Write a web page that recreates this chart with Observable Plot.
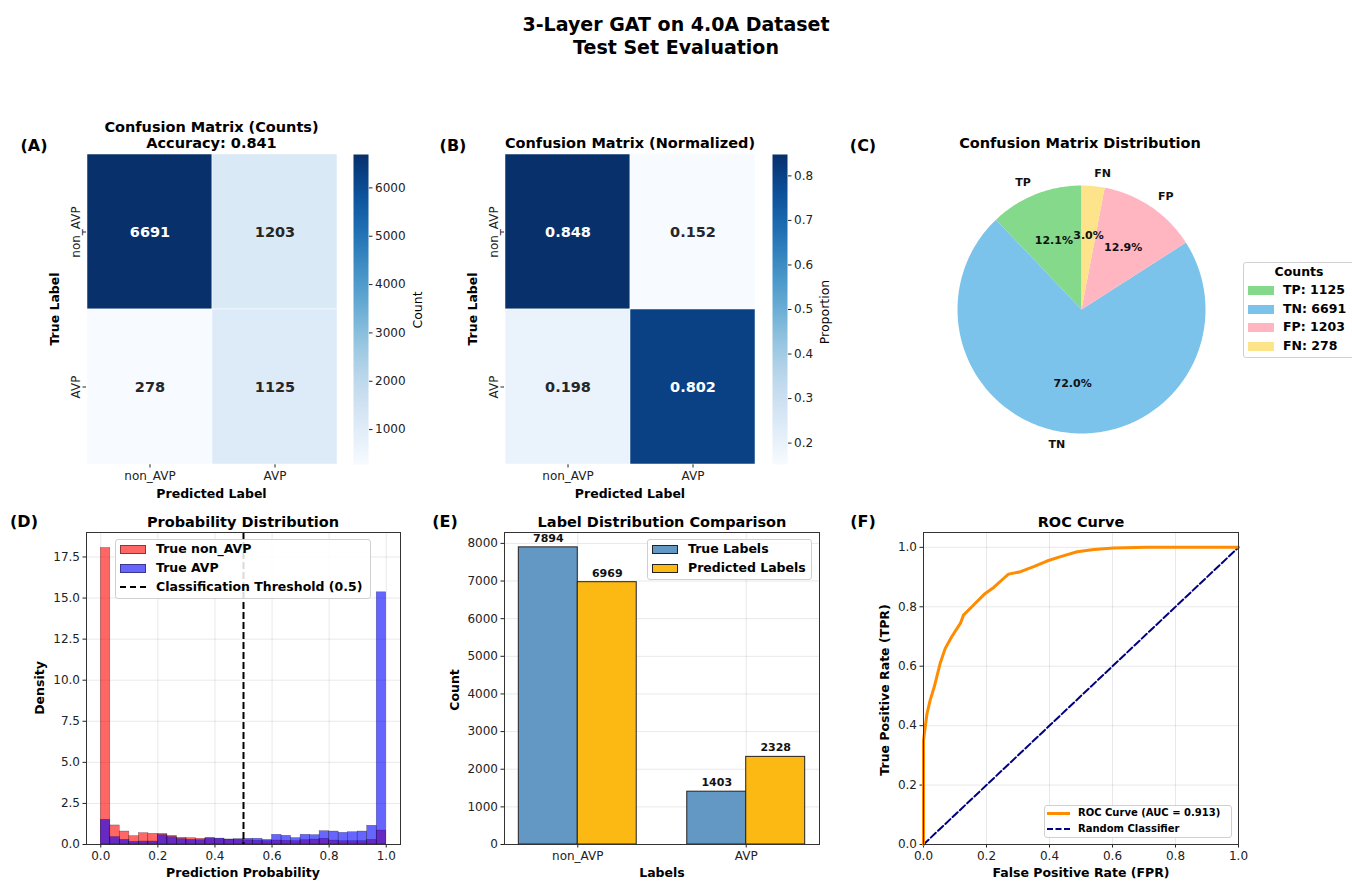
<!DOCTYPE html>
<html><head><meta charset="utf-8">
<script src="https://cdn.jsdelivr.net/npm/d3@7"></script>
<script src="https://cdn.jsdelivr.net/npm/@observablehq/plot@0.6"></script>
<style>
body{margin:0;background:#fff;font-family:"DejaVu Sans",sans-serif;}
#fig{position:relative;width:1352px;height:881px;overflow:hidden;background:#fff;}
.t{position:absolute;white-space:nowrap;line-height:1;color:#000;}
.lg{position:absolute;border:1px solid #d0d0d0;border-radius:3px;background:rgba(255,255,255,0.85);box-sizing:border-box;}
</style></head><body><div id="fig"></div>
<script>
// ---------------- data ----------------
const classLabels = ["non_AVP", "AVP"];
const countMatrix = [[6691, 1203], [278, 1125]];
const normMatrix = [[0.848, 0.152], [0.198, 0.802]];
const countTicks = [1000, 2000, 3000, 4000, 5000, 6000];
const normTicks = [0.2, 0.3, 0.4, 0.5, 0.6, 0.7, 0.8];

const pieLabels = ["TP", "TN", "FP", "FN"];
const pieCounts = [1125, 6691, 1203, 278];
const pieColors = ["#84d98a", "#7bc3ea", "#ffb6c1", "#fde38a"];

const binCount = 30;
const densNonAVP = [18.05, 1.16, 0.79, 0.51, 0.69, 0.65, 0.65, 0.53, 0.41, 0.39, 0.35, 0.38, 0.33, 0.30, 0.28,
                    0.25, 0.22, 0.20, 0.24, 0.22, 0.20, 0.26, 0.30, 0.35, 0.24, 0.20, 0.20, 0.20, 0.28, 0.85];
const densAVP = [1.50, 0.45, 0.28, 0.16, 0.18, 0.18, 0.57, 0.45, 0.33, 0.28, 0.26, 0.38, 0.36, 0.30, 0.33,
                 0.35, 0.35, 0.28, 0.59, 0.53, 0.39, 0.59, 0.57, 0.81, 0.79, 0.71, 0.75, 0.79, 1.14, 15.35];
const probTicks = [0, 0.2, 0.4, 0.6, 0.8, 1.0];
const densTicks = [0, 2.5, 5, 7.5, 10, 12.5, 15, 17.5];

const labelCats = ["non_AVP", "AVP"];
const trueCounts = [7894, 1403];
const predCounts = [6969, 2328];
const barTicks = [0, 1000, 2000, 3000, 4000, 5000, 6000, 7000, 8000];

const rocFPR = [0, 0, 0.011, 0.021, 0.034, 0.053, 0.069, 0.09, 0.117, 0.127, 0.159, 0.196, 0.223, 0.255, 0.27, 0.308, 0.35, 0.392, 0.435, 0.488, 0.541, 0.604, 0.71, 1];
const rocTPR = [0, 0.35, 0.44, 0.485, 0.53, 0.61, 0.66, 0.70, 0.744, 0.772, 0.806, 0.845, 0.865, 0.896, 0.91, 0.918, 0.935, 0.954, 0.969, 0.985, 0.993, 0.998, 1.0, 1.0];
const rateTicks = [0, 0.2, 0.4, 0.6, 0.8, 1.0];

// ---------------- helpers ----------------
const fig = document.getElementById("fig");
const FONT = "DejaVu Sans";
const baseStyle = {fontFamily: FONT, fontSize: "12px", color: "#222", background: "transparent", overflow: "visible"};
function place(node, left, top) {
  node.style.position = "absolute"; node.style.left = left + "px"; node.style.top = top + "px";
  fig.appendChild(node); return node;
}
function txt(str, x, y, {size = 12.5, weight = "bold", rotate = 0, anchor = "middle", color = "#000"} = {}) {
  const d = document.createElement("div");
  d.className = "t"; d.textContent = str;
  d.style.fontSize = size + "px"; d.style.fontWeight = weight; d.style.color = color;
  d.style.left = x + "px"; d.style.top = y + "px";
  const tx = anchor === "middle" ? "-50%" : anchor === "end" ? "-100%" : "0";
  d.style.transform = `translate(${tx},-50%) rotate(${rotate}deg)`;
  fig.appendChild(d); return d;
}
function legend(box, rows, {size = 12.5, title = null, titleY = 0} = {}) {
  const b = document.createElement("div"); b.className = "lg";
  Object.assign(b.style, {left: box.x + "px", top: box.y + "px", width: box.w + "px", height: box.h + "px"});
  fig.appendChild(b);
  if (title) txt(title, box.x + box.w / 2, titleY, {size});
  for (const r of rows) {
    const s = document.createElement("div");
    s.style.position = "absolute"; s.style.boxSizing = "border-box";
    if (r.type === "rect") {
      Object.assign(s.style, {left: r.sx + "px", top: (r.y - 4.5) + "px", width: r.sw + "px", height: "9px",
        background: r.color, border: r.edge ? "1px solid " + r.edge : "none"});
    } else {
      Object.assign(s.style, {left: r.sx + "px", top: (r.y - r.lw / 2) + "px", width: r.sw + "px", height: "0px",
        borderTop: `${r.lw}px ${r.dash ? "dashed" : "solid"} ${r.color}`});
    }
    fig.appendChild(s);
    txt(r.text, r.tx, r.y, {size, anchor: "start"});
  }
}

// ---------------- main title ----------------
txt("3-Layer GAT on 4.0A Dataset", 676, 24, {size: 19});
txt("Test Set Evaluation", 676, 47, {size: 19});

// ---------------- heatmaps (A, B) ----------------
function heatmap(matrix, fmt, domain, thresh) {
  const cells = [];
  matrix.forEach((row, i) => row.forEach((v, j) => cells.push({t: classLabels[i], p: classLabels[j], v})));
  return Plot.plot({
    width: 350, height: 400, marginLeft: 86, marginRight: 13, marginTop: 54, marginBottom: 36,
    style: baseStyle,
    x: {domain: classLabels, padding: 0, label: null, tickSize: 3.5, tickPadding: 3},
    y: {domain: classLabels, padding: 0, label: null, tickSize: 3.5, tickPadding: 3, tickRotate: -90},
    color: {type: "linear", scheme: "blues", domain},
    marks: [
      Plot.cell(cells, {x: "p", y: "t", fill: "v", stroke: "white", strokeWidth: 0.5}),
      Plot.text(cells.filter(d => d.v > thresh), {x: "p", y: "t", text: d => fmt(d.v), fill: "white", fontSize: 14.5, fontWeight: "bold"}),
      Plot.text(cells.filter(d => d.v <= thresh), {x: "p", y: "t", text: d => fmt(d.v), fill: "#262626", fontSize: 14.5, fontWeight: "bold"})
    ]
  });
}
function colorbar(domain, ticks, fmt) {
  return Plot.plot({
    width: 100, height: 400, marginLeft: 13, marginRight: 72, marginTop: 54, marginBottom: 36,
    style: baseStyle,
    x: {domain: [0, 1], axis: null},
    y: {domain, axis: "right", ticks, tickFormat: fmt, label: null, tickSize: 3.5, tickPadding: 3},
    color: {type: "linear", scheme: "blues", domain},
    marks: [Plot.raster({x1: 0, x2: 1, y1: domain[0], y2: domain[1], fill: (x, y) => y})]
  });
}
const cntDomain = d3.extent(countMatrix.flat());
const nrmDomain = d3.extent(normMatrix.flat());
place(heatmap(countMatrix, d3.format("d"), cntDomain, 4000), 0, 100);
place(colorbar(cntDomain, countTicks, d3.format("d")), 340, 100);
place(heatmap(normMatrix, d3.format(".3f"), nrmDomain, 0.5), 418, 100);
place(colorbar(nrmDomain, normTicks, d3.format(".1f")), 759, 100);

txt("(A)", 34, 146, {size: 16});
txt("Confusion Matrix (Counts)", 211.5, 127, {size: 14.5});
txt("Accuracy: 0.841", 211.5, 143, {size: 14.5});
txt("True Label", 55, 309, {rotate: -90});
txt("Predicted Label", 211.5, 494);
txt("Count", 418, 310, {weight: "normal", rotate: -90});

txt("(B)", 453, 146, {size: 16});
txt("Confusion Matrix (Normalized)", 630, 143, {size: 14.5});
txt("True Label", 473, 309, {rotate: -90});
txt("Predicted Label", 630, 494);
txt("Proportion", 825, 312, {weight: "normal", rotate: -90});

// ---------------- pie (C) ----------------
const total = d3.sum(pieCounts);
const wedges = [];
const pieText = [];
let a0 = 90;
pieCounts.forEach((c, i) => {
  const span = c / total * 360, a1 = a0 + span;
  wedges.push({k: pieLabels[i], x: 0, y: 0});
  const n = Math.max(2, Math.ceil(span / 1));
  for (let s = 0; s <= n; s++) {
    const a = (a0 + span * s / n) * Math.PI / 180;
    wedges.push({k: pieLabels[i], x: Math.cos(a), y: Math.sin(a)});
  }
  const m = (a0 + span / 2) * Math.PI / 180;
  pieText.push({k: pieLabels[i], lx: 1.1 * Math.cos(m), ly: 1.1 * Math.sin(m),
                px: 0.6 * Math.cos(m), py: 0.6 * Math.sin(m), pct: (c / total * 100).toFixed(1) + "%"});
  a0 = a1;
});
const R = 150 / 124;
place(Plot.plot({
  width: 300, height: 300, margin: 0, style: baseStyle,
  x: {domain: [-R, R], axis: null}, y: {domain: [-R, R], axis: null},
  color: {domain: pieLabels, range: pieColors},
  marks: [
    Plot.line(wedges, {x: "x", y: "y", z: "k", fill: "k", stroke: null, curve: "linear"}),
    Plot.text(pieText.filter(d => d.lx >= 0), {x: "lx", y: "ly", text: "k", textAnchor: "start", fontSize: 11, fontWeight: "bold", fill: "#111"}),
    Plot.text(pieText.filter(d => d.lx < 0), {x: "lx", y: "ly", text: "k", textAnchor: "end", fontSize: 11, fontWeight: "bold", fill: "#111"}),
    Plot.text(pieText, {x: "px", y: "py", text: "pct", fontSize: 11, fontWeight: "bold", fill: "#111"})
  ]
}), 931, 159);
txt("(C)", 863, 146, {size: 16});
txt("Confusion Matrix Distribution", 1080, 143, {size: 14.5});
legend({x: 1243, y: 262, w: 112, h: 96},
  pieLabels.map((k, i) => ({type: "rect", color: pieColors[i], sx: 1248, sw: 26, y: [290, 309, 327, 346][i], tx: 1283, text: `${k}: ${pieCounts[i]}`})),
  {title: "Counts", titleY: 272});

// ---------------- histogram (D) ----------------
const bins = densNonAVP.map((v, i) => ({x1: i / binCount, x2: (i + 1) / binCount, non: v, avp: densAVP[i]}));
place(Plot.plot({
  width: 420, height: 381, marginLeft: 86, marginRight: 20, marginTop: 32, marginBottom: 37,
  style: baseStyle,
  x: {domain: [-0.05, 1.05], ticks: probTicks, tickFormat: d3.format(".1f"), label: null, tickSize: 3.5, tickPadding: 3},
  y: {domain: [0, 18.99], ticks: densTicks, tickFormat: d3.format(".1f"), label: null, tickSize: 3.5, tickPadding: 3},
  marks: [
    Plot.gridX(probTicks, {stroke: "#000", strokeOpacity: 0.09}),
    Plot.gridY(densTicks, {stroke: "#000", strokeOpacity: 0.09}),
    Plot.rectY(bins, {x1: "x1", x2: "x2", y: "non", fill: "red", fillOpacity: 0.6, stroke: "#000", strokeOpacity: 0.45, strokeWidth: 0.5}),
    Plot.rectY(bins, {x1: "x1", x2: "x2", y: "avp", fill: "blue", fillOpacity: 0.6, stroke: "#000", strokeOpacity: 0.45, strokeWidth: 0.5}),
    Plot.ruleX([0.5], {stroke: "#000", strokeWidth: 2, strokeDasharray: "7,3"}),
    Plot.frame({stroke: "#333", strokeWidth: 1})
  ]
}), 0, 500);
txt("(D)", 24, 522, {size: 16});
txt("Probability Distribution", 243, 522, {size: 14.5});
txt("Density", 40, 688, {rotate: -90});
txt("Prediction Probability", 243, 873);
legend({x: 115, y: 539, w: 256, h: 60}, [
  {type: "rect", color: "rgba(255,0,0,0.6)", edge: "rgba(0,0,0,0.45)", sx: 120, sw: 26, y: 549, tx: 156, text: "True non_AVP"},
  {type: "rect", color: "rgba(0,0,255,0.6)", edge: "rgba(0,0,0,0.45)", sx: 120, sw: 26, y: 568, tx: 156, text: "True AVP"},
  {type: "line", color: "#000", lw: 2, dash: true, sx: 120, sw: 26, y: 587, tx: 156, text: "Classification Threshold (0.5)"}
]);

// ---------------- bars (E) ----------------
const trueColor = "#6498c4", predColor = "#fdb913";
const barRows = [];
labelCats.forEach((c, i) => {
  barRows.push({s: "True Labels", x1: i - 0.35, x2: i, v: trueCounts[i]});
  barRows.push({s: "Predicted Labels", x1: i, x2: i + 0.35, v: predCounts[i]});
});
place(Plot.plot({
  width: 410, height: 381, marginLeft: 74, marginRight: 21, marginTop: 32, marginBottom: 37,
  style: baseStyle,
  x: {domain: [-0.435, 1.435], ticks: [0, 1], tickFormat: i => labelCats[i], label: null, tickSize: 3.5, tickPadding: 3},
  y: {domain: [0, 8289], ticks: barTicks, tickFormat: d3.format("d"), label: null, tickSize: 3.5, tickPadding: 3},
  color: {domain: ["True Labels", "Predicted Labels"], range: [trueColor, predColor]},
  marks: [
    Plot.gridX([0, 1], {stroke: "#000", strokeOpacity: 0.09}),
    Plot.gridY(barTicks, {stroke: "#000", strokeOpacity: 0.09}),
    Plot.rectY(barRows, {x1: "x1", x2: "x2", y: "v", fill: "s", stroke: "#222", strokeWidth: 1}),
    Plot.text(barRows, {x: d => (d.x1 + d.x2) / 2, y: "v", text: d => String(d.v), dy: -9, fontSize: 11, fontWeight: "bold", fill: "#111"}),
    Plot.frame({stroke: "#333", strokeWidth: 1})
  ]
}), 430, 500);
txt("(E)", 445, 522, {size: 16});
txt("Label Distribution Comparison", 662, 522, {size: 14.5});
txt("Count", 455, 690, {rotate: -90});
txt("Labels", 662, 873);
legend({x: 647, y: 539, w: 165, h: 41}, [
  {type: "rect", color: trueColor, edge: "#222", sx: 652, sw: 26, y: 549, tx: 688, text: "True Labels"},
  {type: "rect", color: predColor, edge: "#222", sx: 652, sw: 26, y: 568, tx: 688, text: "Predicted Labels"}
]);

// ---------------- ROC (F) ----------------
const roc = rocFPR.map((f, i) => ({f, t: rocTPR[i]}));
const diag = [{f: 0, t: 0}, {f: 1, t: 1}];
place(Plot.plot({
  width: 400, height: 381, marginLeft: 63, marginRight: 22, marginTop: 32, marginBottom: 37,
  style: baseStyle,
  x: {domain: [0, 1], ticks: rateTicks, tickFormat: d3.format(".1f"), label: null, tickSize: 3.5, tickPadding: 3},
  y: {domain: [0, 1.05], ticks: rateTicks, tickFormat: d3.format(".1f"), label: null, tickSize: 3.5, tickPadding: 3},
  marks: [
    Plot.gridX(rateTicks, {stroke: "#000", strokeOpacity: 0.09}),
    Plot.gridY(rateTicks, {stroke: "#000", strokeOpacity: 0.09}),
    Plot.line(diag, {x: "f", y: "t", stroke: "navy", strokeWidth: 2, strokeDasharray: "7,3"}),
    Plot.line(roc, {x: "f", y: "t", stroke: "darkorange", strokeWidth: 3}),
    Plot.frame({stroke: "#333", strokeWidth: 1})
  ]
}), 860, 500);
txt("(F)", 863, 522, {size: 16});
txt("ROC Curve", 1081, 522, {size: 14.5});
txt("True Positive Rate (TPR)", 885, 690, {rotate: -90});
txt("False Positive Rate (FPR)", 1081, 873);
legend({x: 1044, y: 805, w: 188, h: 33}, [
  {type: "line", color: "darkorange", lw: 3, sx: 1047, sw: 23, y: 813, tx: 1078, text: "ROC Curve (AUC = 0.913)"},
  {type: "line", color: "navy", lw: 2, dash: true, sx: 1047, sw: 23, y: 829, tx: 1078, text: "Random Classifier"}
], {size: 10});
</script></body></html>
